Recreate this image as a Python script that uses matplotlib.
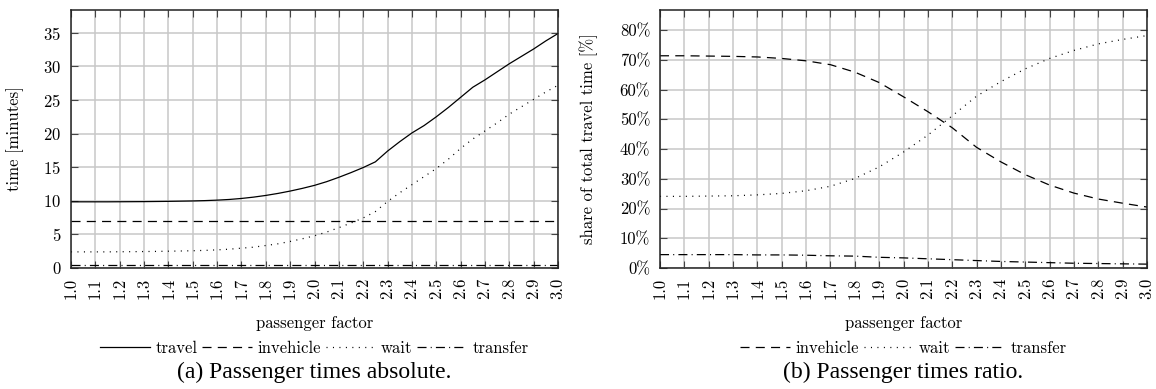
import numpy as np
import matplotlib
matplotlib.use("Agg")
import matplotlib.pyplot as plt

# passenger factor (left chart sampled every 0.05, right chart every 0.1)
factor_abs = [1.00, 1.05, 1.10, 1.15, 1.20, 1.25, 1.30, 1.35, 1.40, 1.45,
              1.50, 1.55, 1.60, 1.65, 1.70, 1.75, 1.80, 1.85, 1.90, 1.95,
              2.00, 2.05, 2.10, 2.15, 2.20, 2.25, 2.30, 2.35, 2.40, 2.45,
              2.50, 2.55, 2.60, 2.65, 2.70, 2.75, 2.80, 2.85, 2.90, 2.95, 3.00]

# absolute times [minutes]
travel = [9.85, 9.85, 9.85, 9.85, 9.86, 9.87, 9.88, 9.90, 9.92, 9.95,
          9.98, 10.03, 10.10, 10.20, 10.35, 10.55, 10.80, 11.10, 11.45, 11.85,
          12.30, 12.85, 13.50, 14.20, 14.95, 15.80, 17.40, 18.80, 20.10, 21.20,
          22.50, 23.90, 25.40, 26.90, 28.00, 29.20, 30.40, 31.50, 32.60, 33.80, 34.90]
invehicle = [7.02] * 41
wait = [2.40, 2.40, 2.40, 2.40, 2.42, 2.43, 2.45, 2.47, 2.50, 2.53,
        2.57, 2.62, 2.70, 2.80, 2.95, 3.10, 3.35, 3.60, 3.95, 4.35,
        4.80, 5.35, 6.00, 6.70, 7.45, 8.40, 9.90, 11.20, 12.40, 13.60,
        14.80, 16.20, 17.80, 19.20, 20.40, 21.60, 22.90, 24.00, 25.10, 26.20, 27.20]
transfer = [0.40] * 41

factor_ratio = [1.0, 1.1, 1.2, 1.3, 1.4, 1.5, 1.6, 1.7, 1.8, 1.9, 2.0,
                2.1, 2.2, 2.3, 2.4, 2.5, 2.6, 2.7, 2.8, 2.9, 3.0]
# shares of total travel time [%]
invehicle_share = [71.4, 71.4, 71.3, 71.2, 71.0, 70.5, 69.7, 68.4, 65.9, 62.4, 57.6,
                   52.6, 47.2, 40.6, 35.7, 31.4, 27.9, 25.2, 23.2, 21.8, 20.5]
wait_share = [24.1, 24.1, 24.2, 24.3, 24.6, 25.1, 26.0, 27.5, 30.1, 34.0, 39.0,
              44.7, 51.2, 57.8, 62.7, 67.0, 70.5, 73.2, 75.4, 76.9, 78.2]
transfer_share = [4.5, 4.5, 4.5, 4.5, 4.4, 4.4, 4.3, 4.1, 4.0, 3.6, 3.4,
                  3.1, 2.8, 2.5, 2.2, 2.0, 1.8, 1.6, 1.5, 1.4, 1.3]

xticks = [1.0 + 0.1 * i for i in range(21)]
xticklabels = ["%.1f" % t for t in xticks]

plt.rcParams["font.family"] = "cmr10"
plt.rcParams["axes.formatter.use_mathtext"] = True
plt.rcParams["lines.scale_dashes"] = False

dashed = (0, (6.5, 4.5))
dotted = (0, (0.75, 3.9))
dashdot = (0, (6.5, 3.0, 0.75, 3.0))
lw = 0.9
fs = 12

fig = plt.figure(figsize=(11.56, 3.89), dpi=100)
ax1 = fig.add_axes([71 / 1156, 1 - 268 / 389, 487 / 1156, 258 / 389])
ax2 = fig.add_axes([660 / 1156, 1 - 268 / 389, 487 / 1156, 258 / 389])


def style(ax):
    ax.set_xlim(1.0, 3.0)
    ax.set_xticks(xticks)
    ax.set_xticklabels(xticklabels, rotation=90)
    ax.grid(True, color="#c8c8c8", linewidth=1.1)
    ax.set_axisbelow(True)
    ax.tick_params(direction="in", length=5, width=0.8, color="#444444",
                   top=True, right=True, labelsize=fs, pad=7)
    for s in ax.spines.values():
        s.set_linewidth(1.1)
        s.set_color("#222222")
    ax.set_xlabel("passenger factor", fontsize=fs, labelpad=12)


# (a) absolute
ax1.plot(factor_abs, travel, color="black", lw=lw, label="travel")
ax1.plot(factor_abs, invehicle, color="black", lw=lw, linestyle=dashed, label="invehicle")
ax1.plot(factor_abs, wait, color="black", lw=lw, linestyle=dotted, label="wait")
ax1.plot(factor_abs, transfer, color="black", lw=lw, linestyle=dashdot, label="transfer")
style(ax1)
ax1.set_ylim(0, 38.4)
ax1.set_yticks([0, 5, 10, 15, 20, 25, 30, 35])
ax1.set_ylabel("time [minutes]", fontsize=fs)
ax1.yaxis.set_label_coords(-0.097, 0.5)
ax1.legend(loc="center", bbox_to_anchor=(0.5, -0.31), ncol=4, frameon=False,
           fontsize=fs, handlelength=3.0, handletextpad=0.3, columnspacing=0.3,
           borderpad=0)

# (b) ratio
ax2.plot(factor_ratio, invehicle_share, color="black", lw=lw, linestyle=dashed, label="invehicle")
ax2.plot(factor_ratio, wait_share, color="black", lw=lw, linestyle=dotted, label="wait")
ax2.plot(factor_ratio, transfer_share, color="black", lw=lw, linestyle=dashdot, label="transfer")
style(ax2)
ax2.set_ylim(0, 86.8)
ax2.set_yticks([0, 10, 20, 30, 40, 50, 60, 70, 80])
ax2.set_yticklabels(["%d%%" % v for v in [0, 10, 20, 30, 40, 50, 60, 70, 80]])
ax2.set_ylabel("share of total travel time [%]", fontsize=fs)
ax2.yaxis.set_label_coords(-0.128, 0.5)
ax2.legend(loc="center", bbox_to_anchor=(0.5, -0.31), ncol=3, frameon=False,
           fontsize=fs, handlelength=3.0, handletextpad=0.3, columnspacing=0.3,
           borderpad=0)

fig.text(314 / 1156, 1 - 372 / 389, "(a) Passenger times absolute.",
         family="Liberation Serif", fontsize=17, ha="center", va="center")
fig.text(903 / 1156, 1 - 372 / 389, "(b) Passenger times ratio.",
         family="Liberation Serif", fontsize=17, ha="center", va="center")

fig.savefig("out.png", dpi=100)
